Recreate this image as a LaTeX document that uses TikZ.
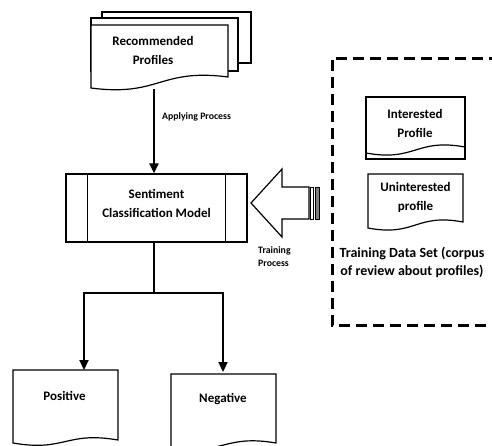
\documentclass[tikz,border=0pt]{standalone}
\usepackage{fontspec}
\setmainfont{Carlito}
\usetikzlibrary{arrows.meta,positioning,calc}

% document shape: [options] x-left, y-top, x-right, y-bottom left, y-bottom right
\newcommand{\docshape}[6][]{%
  \draw[docline,#1] (#2,#3) -- (#4,#3) -- (#4,#6)
    .. controls ({(#2+#4)/2},{#6-9}) and ({(#2+#4)/2},{#5+9}) .. (#2,#5) -- cycle;}

\begin{document}
\begin{tikzpicture}[x=1pt,y=-1pt,
    doctext/.style={font=\bfseries\fontsize{13}{19}\selectfont,align=center,inner sep=0pt},
    smalltext/.style={font=\bfseries\fontsize{9.8}{13}\selectfont,align=left,inner sep=0pt},
    flow/.style={line width=2.2pt,-{Triangle[length=10pt,width=9pt]}},
    docline/.style={line width=1.2pt},
    dashbox/.style={line width=3pt,dash pattern=on 11pt off 6pt}]
    \fill[white] (0,0) rectangle (492,445);
    \useasboundingbox (0,0) rectangle (492,445);

    % recommended profiles (stack of pages)
    \draw[docline,fill=white] (102,12) rectangle (251,63);
    \draw[docline,fill=white] (91,18) rectangle (238,71);
    \docshape[fill=white]{91}{25}{228}{88}{77}
    \node[doctext] (rec) at (153,50) {Recommended\\Profiles};
    \coordinate (recbot) at (154,89);

    % classification model
    \node[draw,docline,minimum width=181pt,minimum height=68pt,inner sep=0pt] (model) at (156.5,208) {};
    \draw[docline] ([xshift=22pt]model.north west) -- ([xshift=22pt]model.south west);
    \draw[docline] ([xshift=-22pt]model.north east) -- ([xshift=-22pt]model.south east);
    \node[doctext] (modeltxt) at ([yshift=5pt]model.center) {Sentiment\\Classification Model};

    \draw[flow] (recbot) -- (recbot |- model.north);
    \node[smalltext,anchor=west] (apply) at (162,117) {Applying Process};

    % training data set
    \draw[dashbox] (500,58) -- (332,58) -- (332,325) -- (500,325);
    \draw[line width=1.6pt] (366,97) rectangle (465,159);
    \docshape{366}{97}{465}{153}{147}
    \node[doctext] (int) at (415,123.5) {Interested\\Profile};
    \docshape{368}{174}{463}{228}{222}
    \node[doctext] (unint) at (415.5,197.5) {Uninterested\\profile};
    \node[doctext,font=\bfseries\fontsize{14}{18}\selectfont] (corpus) at (412,262) {Training Data Set (corpus\\of review about profiles)};

    % striped block arrow
    \draw[docline,fill=white] (251,203) -- (282,169) -- (282,187) -- (309,187) -- (309,219) -- (282,219) -- (282,237) -- cycle;
    \draw[line width=0.8pt] (310.5,187) rectangle (313.5,219);
    \draw[line width=0.8pt,fill=gray] (315.5,187) rectangle (319,219);
    \node[smalltext,anchor=west] (train) at (258,256.5) {Training\\Process};

    % outputs
    \coordinate (split) at (154,293);
    \coordinate (postop) at (84,370);
    \coordinate (negtop) at (223,372);
    \draw[line width=2.2pt] (split |- model.south) -- (split);
    \draw[flow] (split) -| (postop);
    \draw[flow] (split) -| (negtop);
    \docshape{13}{370}{118}{443}{440}
    \node[doctext] (pos) at (64.5,396) {Positive};
    \docshape{171}{374}{276}{447}{443}
    \node[doctext] (neg) at (223,399) {Negative};
\end{tikzpicture}
\end{document}
